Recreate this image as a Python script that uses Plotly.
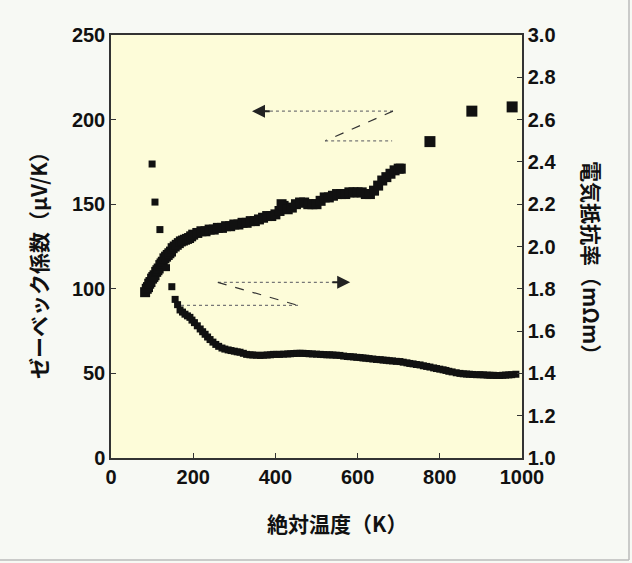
import plotly.graph_objects as go

# Seebeck coefficient (left axis, µV/K)
seebeck_T = [83, 87, 90, 93, 96, 100, 103, 106, 110, 113, 116, 120, 123, 126, 130, 134, 138, 142, 146,
             150, 155, 160, 165, 170, 175, 180, 185, 190, 195, 200, 210, 220, 230, 240, 250, 260, 270,
             280, 290, 300, 310, 320, 330, 340, 350, 360, 370, 380, 390, 400, 410, 415, 420, 430, 440,
             450, 460, 470, 480, 490, 500, 510, 520, 530, 540, 550, 560, 570, 580, 590, 600, 610, 620,
             630, 640, 650, 660, 670, 680, 690, 700, 705]
seebeck_S = [98, 100, 101, 103, 104, 106, 107, 108, 110, 111, 112, 114, 115, 116, 118, 119, 120, 121,
             122, 124, 125, 126, 127, 128, 128.5, 129, 129.5, 130, 131, 132, 133, 134, 134, 135, 135,
             136, 136, 137, 137, 138, 138, 139, 139, 140, 140, 141, 142, 143, 143, 144, 146, 150, 149,
             147, 148, 150, 151, 151, 150, 150, 150, 152, 154, 154, 155, 156, 156, 156, 157, 157, 157,
             157, 156, 156, 158, 161, 164, 166, 168, 170, 171, 171]
seebeck_hi_T = [776, 878, 976]
seebeck_hi_S = [187, 205, 207.5]

# Electrical resistivity (right axis, mΩm)
rho_T = [100, 107, 119, 135, 148, 156, 162, 168, 174, 180, 186, 192, 197, 203, 210, 217, 223, 229,
         235, 241, 248, 255, 262, 270, 277, 285, 292, 300, 307, 314, 322, 330, 338, 345, 354, 363,
         371, 380, 388, 395, 403, 411, 420, 430, 437, 445, 452, 460, 467, 475, 482, 490, 500, 509,
         517, 525, 532, 540, 548, 557, 566, 575, 582, 590, 598, 606, 613, 620, 628, 637, 646, 655,
         662, 670, 677, 685, 694, 703, 711, 720, 727, 735, 743, 752, 760, 768, 776, 785, 792, 800,
         808, 815, 822, 830, 840, 849, 857, 865, 872, 880, 889, 898, 906, 915, 922, 930, 938, 946,
         953, 960, 968, 975, 985]
rho_R = [2.39, 2.21, 2.08, 1.90, 1.81, 1.75, 1.725, 1.70, 1.69, 1.68, 1.672, 1.665, 1.652, 1.64,
         1.625, 1.61, 1.597, 1.585, 1.572, 1.56, 1.548, 1.537, 1.528, 1.52, 1.515, 1.511, 1.508, 1.505,
         1.502, 1.50, 1.495, 1.49, 1.488, 1.487, 1.486, 1.485, 1.486, 1.487, 1.488, 1.49, 1.49, 1.49,
         1.491, 1.492, 1.493, 1.494, 1.495, 1.495, 1.495, 1.494, 1.493, 1.492, 1.491, 1.49, 1.489,
         1.488, 1.488, 1.487, 1.486, 1.485, 1.482, 1.48, 1.479, 1.478, 1.476, 1.475, 1.473, 1.472,
         1.47, 1.468, 1.466, 1.465, 1.463, 1.462, 1.46, 1.459, 1.457, 1.456, 1.453, 1.45, 1.447, 1.445,
         1.442, 1.44, 1.436, 1.433, 1.43, 1.426, 1.423, 1.42, 1.417, 1.414, 1.41, 1.407, 1.403, 1.40,
         1.398, 1.397, 1.396, 1.395, 1.394, 1.394, 1.393, 1.392, 1.391, 1.391, 1.39, 1.39, 1.391,
         1.392, 1.393, 1.394, 1.396]

x_ticks = [0, 200, 400, 600, 800, 1000]
left_ticks = [0, 50, 100, 150, 200, 250]
right_ticks = [1.0, 1.2, 1.4, 1.6, 1.8, 2.0, 2.2, 2.4, 2.6, 2.8, 3.0]

FONT = "Liberation Sans, Arial, sans-serif"
CJK = "Noto Sans CJK JP, sans-serif"
INK = "#111111"

fig = go.Figure()
fig.add_trace(go.Scatter(x=seebeck_T, y=seebeck_S, mode="markers",
                         marker=dict(symbol="square", size=10, color=INK), yaxis="y"))
fig.add_trace(go.Scatter(x=seebeck_hi_T, y=seebeck_hi_S, mode="markers",
                         marker=dict(symbol="square", size=11, color=INK), yaxis="y"))
fig.add_trace(go.Scatter(x=rho_T, y=rho_R, mode="markers",
                         marker=dict(symbol="square", size=7, color=INK), yaxis="y2"))

axis_common = dict(showgrid=False, zeroline=False, ticks="inside", ticklen=5, tickcolor="#333",
                   showline=True, linecolor="#333", linewidth=1.5,
                   tickfont=dict(family=FONT, size=20, color=INK, weight="bold"))

fig.update_layout(
    width=632, height=563,
    margin=dict(l=111, r=110, t=35, b=105),
    paper_bgcolor="#f7f9f4", plot_bgcolor="#fdfcd9",
    showlegend=False,
    xaxis=dict(range=[0, 1000], tickvals=x_ticks, mirror=True, **axis_common),
    yaxis=dict(range=[0, 250], tickvals=left_ticks, **axis_common),
    yaxis2=dict(range=[1.0, 3.0], tickvals=right_ticks, tickformat=".1f", overlaying="y",
                side="right", **axis_common),
)

# Z-shaped arrows linking curves to axes
line_style = dict(color="#777", width=1.2, dash="dot")
diag_style = dict(color="#333", width=1.2, dash="dash")
# upper Z (Seebeck -> left axis)
fig.add_shape(type="line", x0=686, y0=205, x1=360, y1=205, line=line_style)
fig.add_shape(type="line", x0=686, y0=205, x1=521, y1=187.4, line=diag_style)
fig.add_shape(type="line", x0=521, y0=187.4, x1=684, y1=187.4, line=line_style)
fig.add_annotation(x=343, y=205, ax=390, ay=205, xref="x", yref="y", axref="x", ayref="y",
                   showarrow=True, arrowhead=2, arrowsize=1.3, arrowwidth=2, arrowcolor="#222", text="")
# lower Z (resistivity -> right axis)
fig.add_shape(type="line", x0=260, y0=103.8, x1=565, y1=103.8, line=line_style)
fig.add_shape(type="line", x0=260, y0=103.8, x1=455, y1=90.2, line=diag_style)
fig.add_shape(type="line", x0=455, y0=90.2, x1=168, y1=90.2, line=line_style)
fig.add_annotation(x=582, y=103.8, ax=535, ay=103.8, xref="x", yref="y", axref="x", ayref="y",
                   showarrow=True, arrowhead=2, arrowsize=1.3, arrowwidth=2, arrowcolor="#222", text="")

# axis titles
title_font = dict(family=CJK, size=21, color=INK, weight="bold")
fig.add_annotation(text="絶対温度（K）", xref="paper", yref="paper", x=(337 - 111) / 411, y=(458 - 523) / 423,
                   xanchor="center", yanchor="middle", showarrow=False, font=title_font)
fig.add_annotation(text="ゼーベック係数（μV/K）", xref="paper", yref="paper", x=(38 - 111) / 411,
                   y=(458 - 260) / 423, textangle=-90, xanchor="center", yanchor="middle",
                   showarrow=False, font=title_font)
fig.add_annotation(text="電気抵抗率（mΩm）", xref="paper", yref="paper", x=(592 - 111) / 411,
                   y=(458 - 263) / 423, textangle=90, xanchor="center", yanchor="middle",
                   showarrow=False, font=title_font)

# outer frame edges
fig.add_shape(type="line", xref="paper", yref="paper", x0=(629 - 111) / 411, x1=(629 - 111) / 411,
              y0=(458 - 560) / 423, y1=(458 - 0) / 423, line=dict(color="#bbb", width=1.5))
fig.add_shape(type="line", xref="paper", yref="paper", x0=(0 - 111) / 411, x1=(629 - 111) / 411,
              y0=(458 - 560) / 423, y1=(458 - 560) / 423, line=dict(color="#bbb", width=1.5))

fig.write_html("out.html", config={"displayModeBar": False},
               post_script="document.body.style.margin='0';")
